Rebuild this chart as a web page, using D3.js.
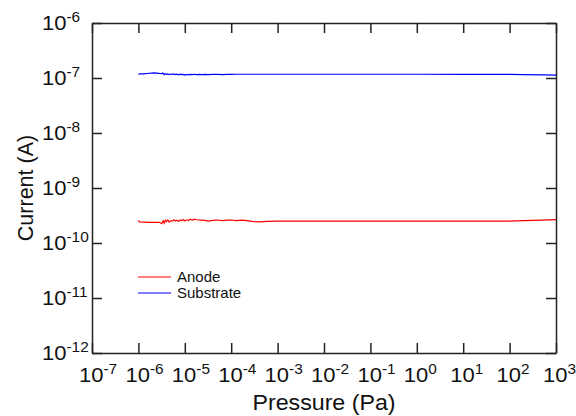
<!DOCTYPE html>
<html>
<head>
<meta charset="utf-8">
<script src="https://cdn.jsdelivr.net/npm/d3@7"></script>
<style>
  body { margin: 0; background: #fff; }
  svg { display: block; font-family: "Liberation Sans", Arial, sans-serif; }
</style>
</head>
<body>
<svg id="chart" width="576" height="416"></svg>
<script>
// pressure readings (Pa) for both traces
const pressure = [1.0e-6, 1.05e-6, 1.3e-6, 1.7e-6, 2.2e-6, 2.8e-6, 3.2e-6, 3.4e-6, 3.6e-6, 3.8e-6,
    4.0e-6, 4.3e-6, 4.6e-6, 5.0e-6, 5.4e-6, 5.8e-6, 6.3e-6, 6.8e-6, 7.4e-6, 8.0e-6,
    8.7e-6, 9.4e-6, 1.0e-5, 1.1e-5, 1.2e-5, 1.3e-5, 1.45e-5, 1.6e-5, 1.8e-5, 2.0e-5,
    2.3e-5, 2.7e-5, 3.2e-5, 4.0e-5, 5.0e-5, 6.5e-5, 8.0e-5, 1.0e-4, 1.3e-4, 1.7e-4,
    2.2e-4, 3.0e-4, 4.0e-4, 6.0e-4, 1.0e-3, 1.0e-2, 1.0e-1, 1, 10, 100, 200, 500, 1000];

const anode = [2.6e-10, 2.42e-10, 2.4e-10, 2.38e-10, 2.38e-10, 2.38e-10, 2.25e-10, 2.55e-10, 2.3e-10, 2.6e-10,
    2.45e-10, 2.62e-10, 2.4e-10, 2.55e-10, 2.5e-10, 2.65e-10, 2.5e-10, 2.6e-10, 2.48e-10, 2.62e-10,
    2.55e-10, 2.66e-10, 2.52e-10, 2.64e-10, 2.55e-10, 2.7e-10, 2.6e-10, 2.72e-10, 2.65e-10, 2.62e-10,
    2.6e-10, 2.58e-10, 2.5e-10, 2.58e-10, 2.62e-10, 2.56e-10, 2.6e-10, 2.62e-10, 2.56e-10, 2.6e-10,
    2.55e-10, 2.45e-10, 2.42e-10, 2.48e-10, 2.5e-10, 2.5e-10, 2.5e-10, 2.5e-10, 2.5e-10, 2.5e-10, 2.55e-10, 2.6e-10, 2.65e-10];

const substrate = [1.15e-7, 1.19e-7, 1.19e-7, 1.22e-7, 1.24e-7, 1.21e-7, 1.2e-7, 1.23e-7, 1.15e-7, 1.2e-7,
    1.17e-7, 1.19e-7, 1.15e-7, 1.18e-7, 1.16e-7, 1.19e-7, 1.15e-7, 1.17e-7, 1.14e-7, 1.17e-7,
    1.15e-7, 1.16e-7, 1.13e-7, 1.16e-7, 1.14e-7, 1.16e-7, 1.15e-7, 1.17e-7, 1.15e-7, 1.16e-7,
    1.15e-7, 1.16e-7, 1.15e-7, 1.16e-7, 1.16e-7, 1.15e-7, 1.16e-7, 1.16e-7, 1.17e-7, 1.17e-7,
    1.17e-7, 1.17e-7, 1.17e-7, 1.17e-7, 1.17e-7, 1.17e-7, 1.17e-7, 1.17e-7, 1.16e-7, 1.16e-7, 1.15e-7, 1.14e-7, 1.13e-7];

const xExponents = [-7, -6, -5, -4, -3, -2, -1, 0, 1, 2, 3];
const yExponents = [-12, -11, -10, -9, -8, -7, -6];

const series = [
    { name: 'Anode', values: anode, color: '#ff0000' },
    { name: 'Substrate', values: substrate, color: '#0000ff' }
];

const svg = d3.select('#chart');
const margin = { top: 23, right: 20, bottom: 63, left: 92 };
const width = +svg.attr('width') - margin.left - margin.right;
const height = +svg.attr('height') - margin.top - margin.bottom;

const x = d3.scaleLog().domain([1e-7, 1e3]).range([0, width]);
const y = d3.scaleLog().domain([1e-12, 1e-6]).range([height, 0]);

const g = svg.append('g').attr('transform', `translate(${margin.left},${margin.top})`);

// inward ticks on all four sides, no labels from the axis itself
const xVals = xExponents.map(e => Math.pow(10, e));
const yVals = yExponents.map(e => Math.pow(10, e));
const axes = [
    [d3.axisBottom(x), `translate(0,${height})`],
    [d3.axisTop(x), 'translate(0,0)'],
    [d3.axisLeft(y), 'translate(0,0)'],
    [d3.axisRight(y), `translate(${width},0)`]
];
axes.forEach(([ax, tr], i) => {
    const vals = i < 2 ? xVals : yVals;
    g.append('g')
        .attr('transform', tr)
        .call(ax.tickValues(vals).tickFormat('').tickSizeInner(-10).tickSizeOuter(0))
        .call(s => s.selectAll('path, line').attr('stroke', '#222').attr('stroke-width', 1.5));
});

// line traces
const line = d3.line()
    .x((d, i) => x(pressure[i]))
    .y(d => y(d));

series.forEach(s => {
    g.append('path')
        .datum(s.values)
        .attr('fill', 'none')
        .attr('stroke', s.color)
        .attr('stroke-width', 1.2)
        .attr('d', line);
});

// tick labels 10^n (text in the original is a bit wide, so stretch it)
function powerLabel(px, py, e) {
    const t = g.append('text')
        .attr('transform', `translate(${px},${py}) scale(1.1,1)`)
        .style('font-size', '20px')
        .attr('fill', '#111');
    t.append('tspan').text('10');
    t.append('tspan').attr('dy', -8).style('font-size', '14px').text(e);
}

xExponents.forEach(e => powerLabel(x(Math.pow(10, e)) - 13, height + 29, e));
yExponents.forEach(e => powerLabel(-50, y(Math.pow(10, e)) + 7, e));

// axis titles
svg.append('text')
    .attr('transform', `translate(${margin.left + width / 2},410) scale(1.08,1)`)
    .attr('text-anchor', 'middle')
    .style('font-size', '21.5px')
    .attr('fill', '#111')
    .text('Pressure (Pa)');

svg.append('text')
    .attr('transform', `translate(33,${margin.top + height / 2}) rotate(-90)`)
    .attr('text-anchor', 'middle')
    .style('font-size', '21.5px')
    .attr('fill', '#111')
    .text('Current (A)');

// legend
const legend = svg.append('g').attr('transform', 'translate(138,277)');
series.forEach((s, i) => {
    legend.append('line')
        .attr('x1', 0).attr('x2', 33)
        .attr('y1', i * 16).attr('y2', i * 16)
        .attr('stroke', s.color)
        .attr('stroke-width', 1.2);
    legend.append('text')
        .attr('x', 39)
        .attr('y', i * 16 + 5)
        .style('font-size', '15px')
        .attr('fill', '#111')
        .text(s.name);
});
</script>
</body>
</html>
